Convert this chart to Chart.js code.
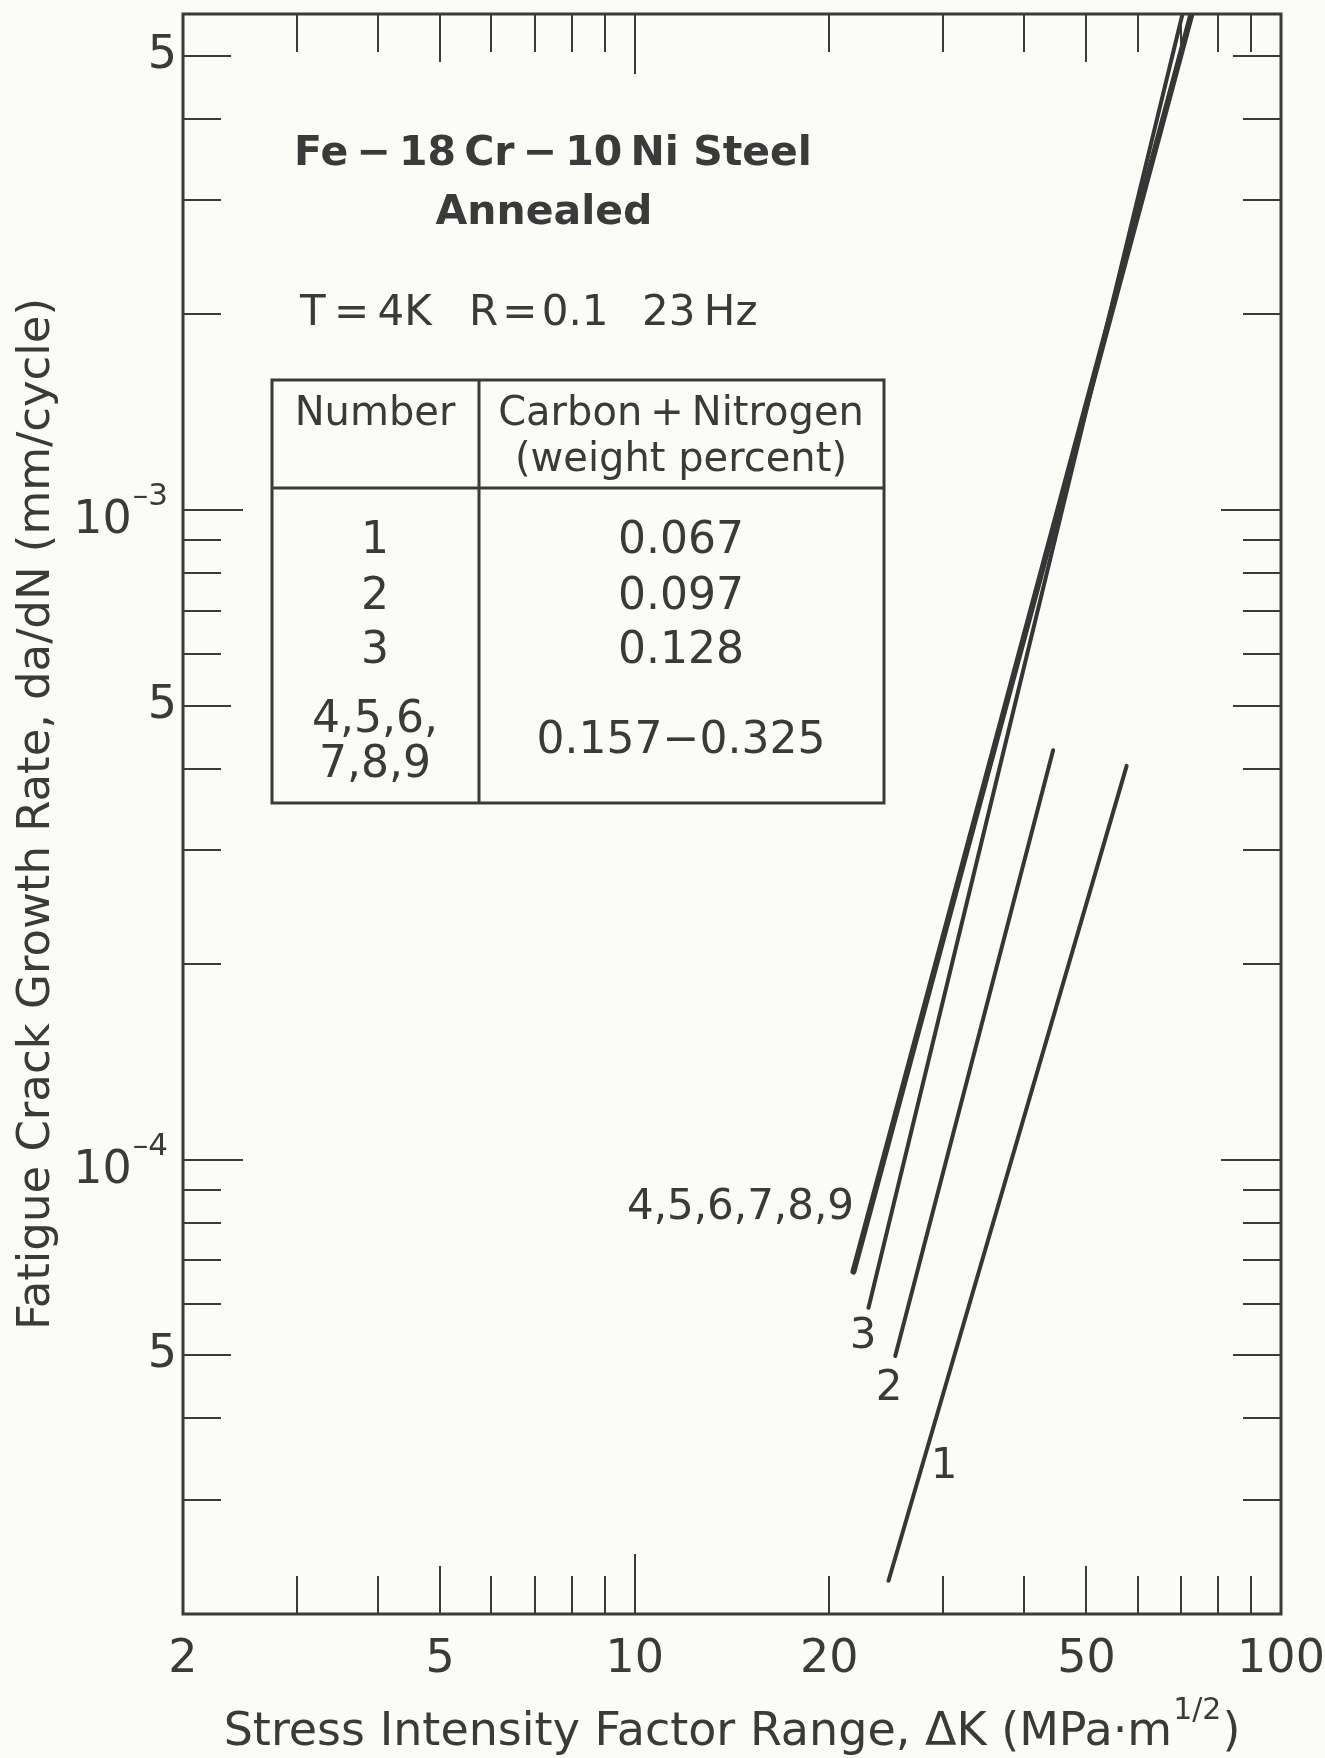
<!DOCTYPE html>
<html>
<head>
<meta charset="utf-8">
<script src="https://cdn.jsdelivr.net/npm/chart.js@4.4.1/dist/chart.umd.min.js"></script>
<style>
  html, body { margin: 0; padding: 0; background: #fbfbf8; }
  canvas { display: block; }
</style>
</head>
<body>
<canvas id="fcgr" width="1325" height="1758"></canvas>
<script>
// Fatigue crack growth rate vs. stress intensity factor range (log-log)
const seriesNames = ['1', '2', '3', '4,5,6,7,8,9'];
const deltaK1  = [24.7, 57.7];     const rate1  = [2.25e-5, 4.04e-4];
const deltaK2  = [25.3, 44.4];     const rate2  = [4.99e-5, 4.27e-4];
const deltaK3  = [23.0, 70.4];     const rate3  = [5.92e-5, 5.8e-3];
const deltaK49 = [21.8, 72.7];     const rate49 = [6.73e-5, 5.8e-3];

const xTickValues = [2, 5, 10, 20, 50, 100];
const xTickLabels = ['2', '5', '10', '20', '50', '100'];
const yTickValues = [5e-5, 1e-4, 5e-4, 1e-3, 5e-3];
const yTickLabels = ['5', '10', '5', '10', '5'];
const yTickExponents = ['', '\u20134', '', '\u20133', ''];

const tableNumbers = ['1', '2', '3'];
const tableContent = ['0.067', '0.097', '0.128'];
const tableGroupNumbers = ['4,5,6,', '7,8,9'];
const tableGroupContent = '0.157\u22120.325';

const X_MIN = 2, X_MAX = 100, Y_MIN = 2e-5, Y_MAX = 5.8e-3;
const INK = '#3a3a3a';
const FONT = '"DejaVu Sans", "Noto Sans", sans-serif';

function pts(xs, ys) { return xs.map((x, i) => ({ x, y: ys[i] })); }

const lineSets = [
  { label: seriesNames[0], data: pts(deltaK1, rate1), w: 4 },
  { label: seriesNames[1], data: pts(deltaK2, rate2), w: 4 },
  { label: seriesNames[2], data: pts(deltaK3, rate3), w: 4 },
  { label: seriesNames[3], data: pts(deltaK49, rate49), w: 6 }
];

// minor/major tick marks for a log axis, excluding the axis ends
function logTicks(min, max) {
  const out = [];
  for (let k = Math.floor(Math.log10(min)); k <= Math.ceil(Math.log10(max)); k++) {
    for (let m = 1; m <= 9; m++) {
      const v = m * Math.pow(10, k);
      if (v > min * 1.0001 && v < max * 0.9999) out.push({ v, m });
    }
  }
  return out;
}
function tickLength(m) { return m === 1 ? 60 : (m === 5 ? 48 : 38); }

const decorPlugin = {
  id: 'decor',
  beforeDraw(chart) {
    const c = chart.ctx;
    c.save();
    c.fillStyle = '#fbfbf8';
    c.fillRect(0, 0, chart.width, chart.height);
    c.restore();
  },
  afterDraw(chart) {
    const c = chart.ctx;
    const { left, right, top, bottom } = chart.chartArea;
    const xs = chart.scales.x, ys = chart.scales.y;
    c.save();
    c.strokeStyle = INK;
    c.lineCap = 'butt';

    // inward tick marks on all four sides
    c.lineWidth = 2;
    logTicks(X_MIN, X_MAX).forEach(t => {
      const px = Math.round(xs.getPixelForValue(t.v));
      const L = tickLength(t.m);
      c.beginPath();
      c.moveTo(px, bottom); c.lineTo(px, bottom - L);
      c.moveTo(px, top); c.lineTo(px, top + L);
      c.stroke();
    });
    logTicks(Y_MIN, Y_MAX).forEach(t => {
      const py = Math.round(ys.getPixelForValue(t.v));
      const L = tickLength(t.m);
      c.beginPath();
      c.moveTo(left, py); c.lineTo(left + L, py);
      c.moveTo(right, py); c.lineTo(right - L, py);
      c.stroke();
    });

    // frame
    c.lineWidth = 3;
    c.strokeRect(left, top, right - left, bottom - top);

    c.fillStyle = INK;
    c.textBaseline = 'middle';

    // y tick labels: mantissa or power of ten with raised exponent
    yTickValues.forEach((v, i) => {
      const py = ys.getPixelForValue(v);
      const exp = yTickExponents[i];
      c.textAlign = 'right';
      if (exp) {
        c.font = '31px ' + FONT;
        c.fillText(exp, left - 15, py - 13);
        const we = c.measureText(exp).width;
        c.font = '46px ' + FONT;
        c.fillText(yTickLabels[i], left - 15 - we - 1, py + 11);
      } else {
        c.font = '46px ' + FONT;
        c.fillText(yTickLabels[i], left - 6, py);
      }
    });

    // heading
    c.textAlign = 'center';
    c.font = 'bold 41px ' + FONT;
    c.fillText('Fe\u2009\u2212\u200918\u2009Cr\u2009\u2212\u200910\u2009Ni Steel', 553, 154);
    c.fillText('Annealed', 544, 213);
    c.textAlign = 'left';
    c.font = '42px ' + FONT;
    c.fillText('T\u2009=\u20094K', 300, 314);
    c.fillText('R\u200A=\u200A0.1', 469, 314);
    c.fillText('23\u2009Hz', 642, 314);

    // composition table
    c.lineWidth = 3;
    c.strokeRect(272, 380, 884 - 272, 803 - 380);
    c.beginPath();
    c.moveTo(479, 380); c.lineTo(479, 803);
    c.moveTo(272, 488); c.lineTo(884, 488);
    c.stroke();
    c.textAlign = 'center';
    c.font = '40px ' + FONT;
    c.fillText('Number', 375, 415);
    c.fillText('Carbon\u2009+\u2009Nitrogen', 681, 415);
    c.fillText('(weight percent)', 681, 461);
    c.font = '44px ' + FONT;
    const rowY = [542, 598, 652];
    tableNumbers.forEach((n, i) => c.fillText(n, 375, rowY[i]));
    tableContent.forEach((v, i) => c.fillText(v, 681, rowY[i]));
    c.fillText(tableGroupNumbers[0], 375, 721);
    c.fillText(tableGroupNumbers[1], 375, 766);
    c.fillText(tableGroupContent, 681, 742);

    // series labels beside line ends
    c.font = '42px ' + FONT;
    c.textAlign = 'right';
    c.fillText(seriesNames[3], 854, 1208);
    c.textAlign = 'center';
    c.fillText(seriesNames[2], 863, 1337);
    c.fillText(seriesNames[1], 889, 1389);
    c.fillText(seriesNames[0], 944, 1467);

    // x axis title with superscript exponent
    const main = 'Stress Intensity Factor Range, \u0394K (MPa\u00B7m';
    const sup = '1/2';
    const tail = ')';
    c.font = '46px ' + FONT;
    const wMain = c.measureText(main).width;
    const wTail = c.measureText(tail).width;
    c.font = '30px ' + FONT;
    const wSup = c.measureText(sup).width;
    const total = wMain + wSup + wTail + 2;
    const x0 = (left + right) / 2 - total / 2;
    const yT = 1733;
    c.textAlign = 'left';
    c.font = '46px ' + FONT;
    c.fillText(main, x0, yT);
    c.font = '30px ' + FONT;
    c.fillText(sup, x0 + wMain + 1, yT - 22);
    c.font = '46px ' + FONT;
    c.fillText(tail, x0 + wMain + wSup + 2, yT);
    c.restore();
  }
};

new Chart(document.getElementById('fcgr').getContext('2d'), {
  type: 'line',
  data: {
    datasets: lineSets.map(s => ({
      label: s.label,
      data: s.data,
      borderColor: '#363636',
      borderWidth: s.w,
      borderCapStyle: 'round',
      pointRadius: 0,
      tension: 0,
      fill: false
    }))
  },
  options: {
    responsive: false,
    animation: false,
    devicePixelRatio: 1,
    layout: { padding: { left: 0, right: 44, top: 14, bottom: 0 } },
    plugins: { legend: { display: false }, tooltip: { enabled: false } },
    scales: {
      x: {
        type: 'logarithmic', min: X_MIN, max: X_MAX, position: 'bottom',
        grid: { display: false, drawTicks: false },
        border: { display: false },
        afterBuildTicks: s => { s.ticks = xTickValues.map(v => ({ value: v })); },
        afterFit: s => { s.height = 144; s.paddingLeft = 0; s.paddingRight = 0; },
        ticks: {
          autoSkip: false, maxRotation: 0, padding: 18,
          color: INK, font: { family: FONT, size: 46 },
          callback: (v, i) => xTickLabels[i]
        }
      },
      y: {
        type: 'logarithmic', min: Y_MIN, max: Y_MAX,
        grid: { display: false, drawTicks: false },
        border: { display: false },
        afterBuildTicks: s => { s.ticks = yTickValues.map(v => ({ value: v })); },
        afterFit: s => { s.width = 183; s.paddingTop = 0; s.paddingBottom = 0; },
        ticks: { display: false },
        title: {
          display: true,
          text: 'Fatigue Crack Growth Rate, da/dN (mm/cycle)',
          color: INK,
          font: { family: FONT, size: 45 },
          padding: { top: 10, bottom: 0 }
        }
      }
    }
  },
  plugins: [decorPlugin]
});
</script>
</body>
</html>
